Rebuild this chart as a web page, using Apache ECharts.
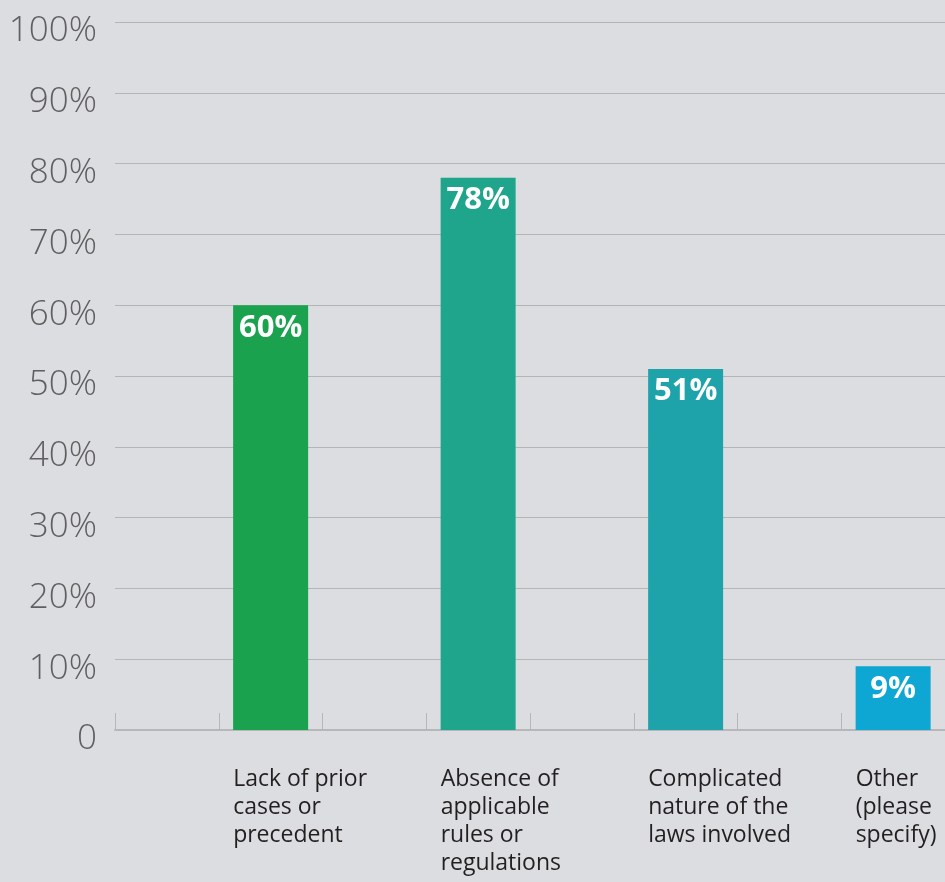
<!DOCTYPE html>
<html>
<head>
<meta charset="utf-8">
<script src="https://cdn.jsdelivr.net/npm/echarts@6/dist/echarts.min.js"></script>
<style>
  html, body { margin: 0; padding: 0; background: #dcdde0; }
  #chart { width: 945px; height: 882px; }
</style>
</head>
<body>
<div id="chart"></div>
<script>
// Eight equal slots along the x axis; answers sit in every second slot.
const categories = [
  '',
  'Lack of prior\ncases or\nprecedent',
  '',
  'Absence of\napplicable\nrules or\nregulations',
  '',
  'Complicated\nnature of the\nlaws involved',
  '',
  'Other\n(please\nspecify)'
];
const values = [null, 60, null, 78, null, 51, null, 9];
const barColors = [null, '#1aa24e', null, '#1fa58b', null, '#1fa3ab', null, '#0ea6d3'];
const yTicks = [0, 10, 20, 30, 40, 50, 60, 70, 80, 90, 100];

const chart = echarts.init(document.getElementById('chart'), null, { renderer: 'canvas' });

chart.setOption({
  backgroundColor: '#dcdde0',
  animation: false,
  grid: { left: 115, right: 0, top: 22, bottom: 152 },
  xAxis: {
    type: 'category',
    data: categories,
    boundaryGap: true,
    axisLine: { show: true, lineStyle: { color: '#b6b7b9', width: 2 } },
    axisTick: { show: true, inside: true, length: 17, lineStyle: { color: '#b6b7b9', width: 1 } },
    axisLabel: {
      interval: 0,
      margin: 35,
      width: 75,
      overflow: 'none',
      align: 'center',
      verticalAlign: 'top',
      formatter: function (v) { return v ? '{t|' + v.split('\n').join('}\n{t|') + '}' : ''; },
      rich: {
        t: {
          fontFamily: 'Open Sans',
          fontSize: 23,
          lineHeight: 28,
          color: '#231f20',
          align: 'left'
        }
      }
    },
    splitLine: { show: false }
  },
  yAxis: {
    type: 'value',
    min: yTicks[0],
    max: yTicks[yTicks.length - 1],
    interval: 10,
    axisLine: { show: false },
    axisTick: { show: false },
    axisLabel: {
      margin: 18,
      fontFamily: 'Open Sans',
      fontWeight: 300,
      fontSize: 35,
      color: '#5f5f5f',
      verticalAlign: 'top',
      padding: [-8, 0, 0, 0],
      formatter: function (v) { return v === 0 ? '0' : v + '%'; }
    },
    splitLine: { show: true, lineStyle: { color: '#b4b5b7', width: 1 } }
  },
  series: [{
    type: 'bar',
    barWidth: 75,
    data: values.map(function (v, i) {
      return v === null ? '-' : { value: v, itemStyle: { color: barColors[i] } };
    }),
    label: {
      show: true,
      position: 'insideTop',
      distance: 7,
      fontFamily: 'Open Sans',
      fontWeight: 'bold',
      fontSize: 31,
      color: '#ffffff',
      formatter: function (p) { return p.value + '%'; }
    }
  }]
});
</script>
</body>
</html>
